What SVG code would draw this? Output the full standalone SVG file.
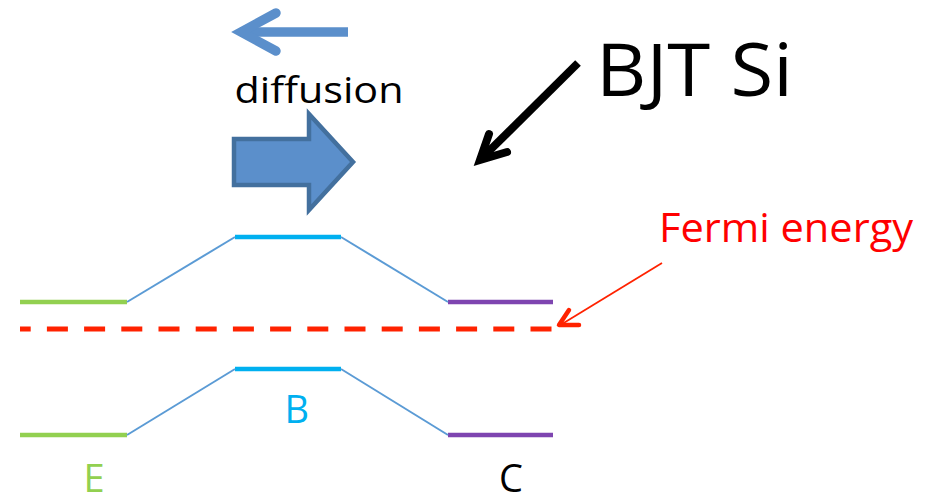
<svg xmlns="http://www.w3.org/2000/svg" width="927" height="498" viewBox="0 0 927 498">
<style>
  text { font-family: "Open Sans", "Noto Sans", "Liberation Sans", sans-serif; }
  .lvl { stroke-width: 4.5; fill: none; }
  .g { stroke: #92d050; }
  .b { stroke: #00b0f0; }
  .p { stroke: #7e45b0; }
  .slant { stroke: #5b9bd5; stroke-width: 2; fill: none; }
</style>
<rect width="927" height="498" fill="#ffffff"/>

<g id="upper-band">
  <line class="lvl g" x1="20" y1="302" x2="127" y2="302"/>
  <line class="lvl b" x1="235" y1="237" x2="341" y2="237"/>
  <line class="lvl p" x1="448" y1="302" x2="553" y2="302"/>
</g>
<g id="lower-band">
  <line class="lvl g" x1="20" y1="435" x2="127" y2="435"/>
  <line class="lvl b" x1="235" y1="369" x2="341" y2="369"/>
  <line class="lvl p" x1="448" y1="435" x2="553" y2="435"/>
</g>
<g id="fermi-level">
  <line x1="20" y1="329" x2="553" y2="329" stroke="#ff2200" stroke-width="5" stroke-dasharray="21 16.2" stroke-dashoffset="10.3"/>
</g>

<g id="connectors">
  <polyline class="slant" points="127,302 235,237"/>
  <polyline class="slant" points="341,237 448,302"/>
  <polyline class="slant" points="127,435 235,369"/>
  <polyline class="slant" points="341,369 448,435"/>
  <!-- diffusion thin arrow -->
  <g stroke="#5b8fcb" stroke-width="9.4" fill="none">
    <line x1="348" y1="32" x2="244" y2="32"/>
    <path d="M276,13 L241,32 L276,51" stroke-linecap="round" stroke-linejoin="miter"/>
  </g>
  <!-- BJT Si pointer -->
  <g stroke="#000000" stroke-width="8" fill="none">
    <line x1="578" y1="63" x2="483" y2="157"/>
    <path d="M489,134 L480,160 L507,152" stroke-linecap="round" stroke-linejoin="miter"/>
  </g>
  <!-- Fermi pointer -->
  <g stroke="#ff2200" fill="none">
    <line x1="662" y1="263" x2="562" y2="324" stroke-width="1.8"/>
    <path d="M569,310 L559,325 L579,325" stroke-width="4.5" stroke-linecap="round" stroke-linejoin="round"/>
  </g>
</g>

<g id="block-arrow">
  <polygon points="234,139 309,139 309,114 353,162 309,210 309,185 234,185" fill="#5b8fcb" stroke="#43709e" stroke-width="4.5" stroke-linejoin="miter"/>
</g>

<g id="labels">
  <text x="234.5" y="103" font-size="37" fill="#000000" textLength="169" lengthAdjust="spacingAndGlyphs">diffusion</text>
  <text x="596" y="96" font-size="74" fill="#000000" textLength="197" lengthAdjust="spacingAndGlyphs">BJT Si</text>
  <text x="659" y="242" font-size="40" fill="#ff0000" textLength="254" lengthAdjust="spacingAndGlyphs">Fermi energy</text>
  <text x="284.5" y="423" font-size="38" fill="#00b0f0">B</text>
  <text x="83.5" y="492" font-size="38" fill="#92d050">E</text>
  <text x="499" y="492" font-size="38" fill="#000000">C</text>
</g>
</svg>
